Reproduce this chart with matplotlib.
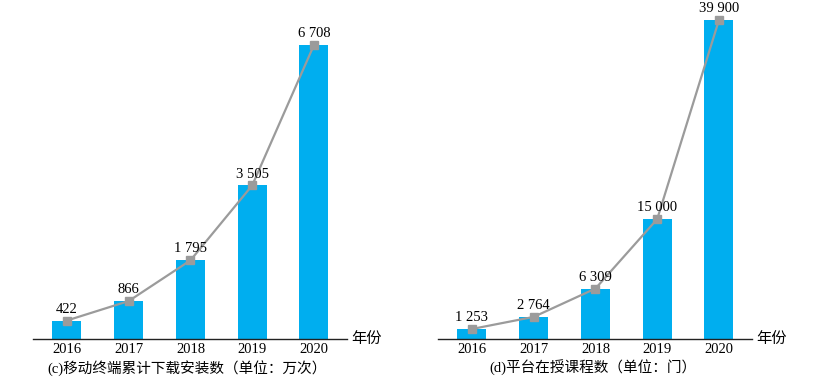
import matplotlib
matplotlib.use("Agg")
import matplotlib.pyplot as plt

years = ["2016", "2017", "2018", "2019", "2020"]
downloads = [422, 866, 1795, 3505, 6708]
courses = [1253, 2764, 6309, 15000, 39900]
captions = ["(c)移动终端累计下载安装数（单位：万次）", "(d)平台在授课程数（单位：门）"]
xlabel_txt = "年份"

W, H = 823, 384
fig = plt.figure(figsize=(W / 100, H / 100), dpi=100)

serif = ["Liberation Serif", "Noto Sans CJK SC"]
cjk = ["Liberation Serif", "Noto Sans CJK SC"]

bar_color = "#00AEEF"
line_color = "#9B9B9B"

def fmt(v):
    return f"{v:,}".replace(",", " ")

panels = [
    (downloads, 33, 347, 45, captions[0], 187),
    (courses, 438, 752, 20, captions[1], 593),
]

for vals, x0, x1, ytop_px, cap, capx in panels:
    base = 339
    ax = fig.add_axes([x0 / W, (H - base) / H, (x1 - x0) / W, base / H])
    xs = list(range(len(years)))
    ymax = vals[-1] * base / (base - ytop_px)
    ax.bar(xs, vals, width=0.47, color=bar_color, zorder=2)
    ax.plot(xs, vals, color=line_color, lw=1.6, marker="s", ms=6, zorder=3)
    for x, v in zip(xs, vals):
        ax.annotate(fmt(v), (x, v), xytext=(0, 3.5), textcoords="offset points",
                    ha="center", va="bottom", fontsize=10.5, family=serif,
                    annotation_clip=False)
    ax.set_xlim(-0.55, 4.535)
    ax.set_ylim(0, ymax)
    ax.set_xticks(xs)
    ax.set_xticklabels(years, family=serif, fontsize=10.5)
    ax.tick_params(axis="x", length=0, pad=3)
    ax.set_yticks([])
    for s in ["top", "right", "left"]:
        ax.spines[s].set_visible(False)
    ax.spines["bottom"].set_color("#222222")
    ax.spines["bottom"].set_linewidth(1.0)
    ax.text(1.015, 0, xlabel_txt, transform=ax.transAxes, ha="left", va="center",
            fontsize=11, family=cjk)
    fig.text(capx / W, 1 - 368 / H, cap, ha="center", va="center", fontsize=10.5,
             family=cjk)

fig.savefig("out.png", dpi=100)
